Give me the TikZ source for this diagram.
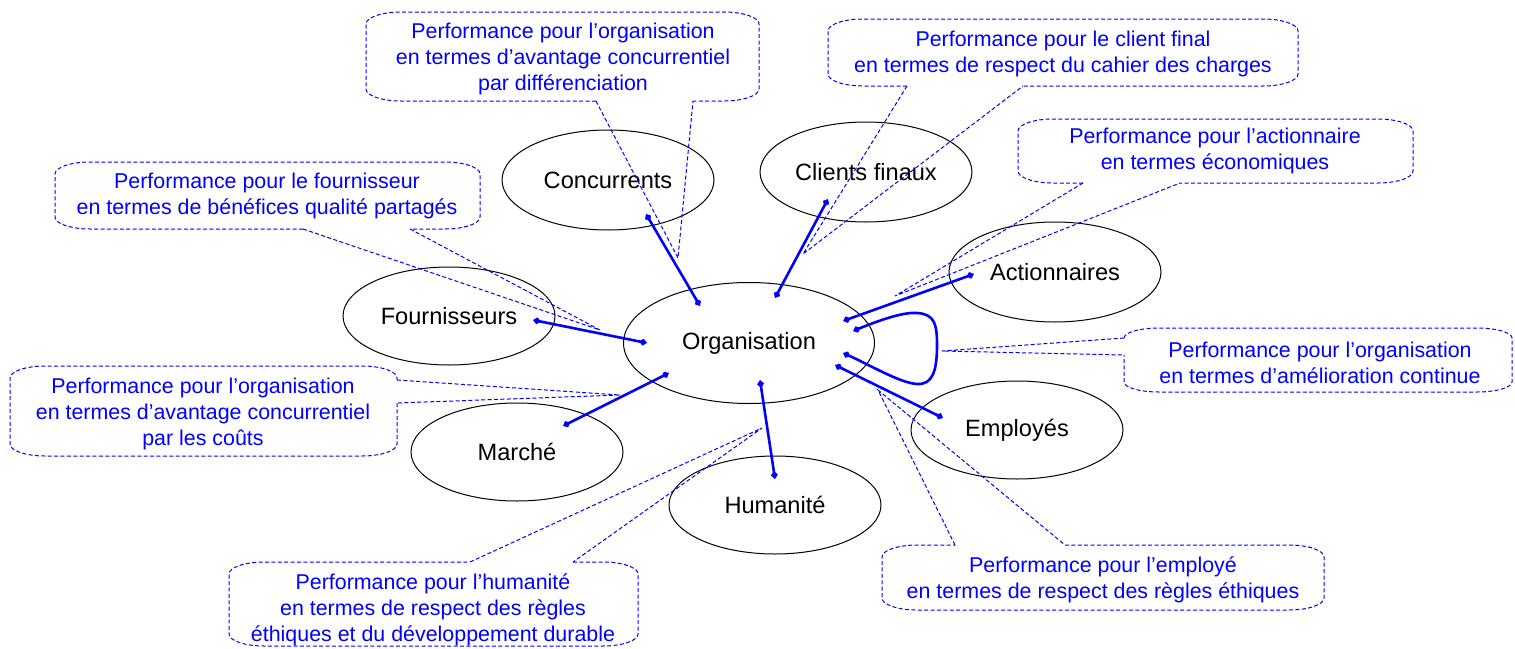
\documentclass[tikz,border=0pt]{standalone}
\usepackage{fontspec}
\setmainfont{Liberation Sans}
\usetikzlibrary{shapes.geometric,arrows.meta}
\definecolor{pblue}{RGB}{0,0,255}
\def\cR{35}
\def\cS{12}
% corner fragments, clockwise on screen (y grows downward)
\newcommand\cTL[2]{-- (#1,{#2+\cS}) .. controls (#1,{#2+0.45*\cS}) and ({#1+0.45*\cR},#2) .. ({#1+\cR},#2)}
\newcommand\cTR[2]{-- ({#1-\cR},#2) .. controls ({#1-0.45*\cR},#2) and (#1,{#2+0.45*\cS}) .. (#1,{#2+\cS})}
\newcommand\cBR[2]{-- (#1,{#2-\cS}) .. controls (#1,{#2-0.45*\cS}) and ({#1-0.45*\cR},#2) .. ({#1-\cR},#2)}
\newcommand\cBL[2]{-- ({#1+\cR},#2) .. controls ({#1+0.45*\cR},#2) and (#1,{#2-0.45*\cS}) .. (#1,{#2-\cS})}
% callouts: x1 y1 x2 y2 p q tip
\newcommand\callB[7]{%
 \draw[cbox] (#5,#4) \cBL{#1}{#4} \cTL{#1}{#2} \cTR{#3}{#2} \cBR{#3}{#4} -- (#6,#4);
 \draw[ctail] (#5,#4) -- (#7) -- (#6,#4);}
\newcommand\callT[7]{%
 \draw[cbox] (#6,#2) \cTR{#3}{#2} \cBR{#3}{#4} \cBL{#1}{#4} \cTL{#1}{#2} -- (#5,#2);
 \draw[ctail] (#5,#2) -- (#7) -- (#6,#2);}
\newcommand\callR[7]{%
 \draw[cbox] (#3,#6) \cBR{#3}{#4} \cBL{#1}{#4} \cTL{#1}{#2} \cTR{#3}{#2} -- (#3,#5);
 \draw[ctail] (#3,#5) -- (#7) -- (#3,#6);}
\newcommand\callL[7]{%
 \draw[cbox] (#1,#5) \cTL{#1}{#2} \cTR{#3}{#2} \cBR{#3}{#4} \cBL{#1}{#4} -- (#1,#6);
 \draw[ctail] (#1,#5) -- (#7) -- (#1,#6);}
\begin{document}
\begin{tikzpicture}[x=0.5pt,y=-0.5pt,
 ell/.style={draw=black,line width=0.5pt,ellipse,inner sep=0pt,minimum width=106pt,minimum height=49pt,font=\fontsize{11.8}{14}\selectfont},
 conn/.style={draw=pblue,line width=1.3pt,{Diamond[length=4pt,width=3.5pt]}-{Diamond[length=4pt,width=3.5pt]}},
 cbox/.style={draw=pblue,line width=0.5pt,dash pattern=on 2pt off 1.2pt},
 ctail/.style={draw=pblue,line width=0.5pt,dash pattern=on 2pt off 1.2pt},
 ctext/.style={text=pblue,align=center,font=\fontsize{10.7}{13}\selectfont,inner sep=0pt}]
\useasboundingbox (0,0) rectangle (1515,648);

% ellipses
\node[ell,minimum height=50pt] (conc) at (608,180) {Concurrents};
\node[ell,minimum height=50pt] (cli) at (866,172) {Clients finaux};
\node[ell,minimum height=50pt] (act) at (1055,272) {Actionnaires};
\node[ell,minimum width=125.5pt,minimum height=60.5pt] (org) at (749,343) {Organisation};
\node[ell] (four) at (449,316) {Fournisseurs};
\node[ell] (mar) at (517,452) {Marché};
\node[ell] (hum) at (775,505) {Humanité};
\node[ell] (emp) at (1017,430) {Employés};

% connector end points
\coordinate (cA1) at (646,214); \coordinate (cA2) at (700,306);
\coordinate (cB1) at (828,199); \coordinate (cB2) at (775,298);
\coordinate (cC1) at (974,274); \coordinate (cC2) at (843,321);
\coordinate (l1) at (853,331);  \coordinate (l2) at (843,353);
\coordinate (cE1) at (943,418); \coordinate (cE2) at (835,365);
\coordinate (cH1) at (775,479); \coordinate (cH2) at (760,380);
\coordinate (cM1) at (563,426); \coordinate (cM2) at (669,373);
\coordinate (cF1) at (533,320); \coordinate (cF2) at (647,343);

\draw[conn] (cA1) -- (cA2);
\draw[conn] (cB1) -- (cB2);
\draw[conn] (cC1) -- (cC2);
\draw[conn] (cE1) -- (cE2);
\draw[conn] (cH1) -- (cH2);
\draw[conn] (cM1) -- (cM2);
\draw[conn] (cF1) -- (cF2);
\draw[conn] (l1) .. controls (885,318) and (905,312) .. (917,313)
  .. controls (935,314) and (937,325) .. (937,345)
  .. controls (937,370) and (933,385) .. (917,384)
  .. controls (900,383) and (870,365) .. (l2);

% callout tips
\coordinate (tConc) at (678,258);
\coordinate (tCli) at (803,254);
\coordinate (tAct) at (895,296);
\coordinate (tAme) at (942,351);
\coordinate (tFour) at (600,330);
\coordinate (tCout) at (620,395);
\coordinate (tHum) at (762,428);
\coordinate (tEmp) at (878,390);

% callout boxes
\callB{366}{12}{759}{101}{596}{693}{tConc}
\node[ctext] (k1) at (563,59) {Performance pour l’organisation\\en termes d’avantage concurrentiel\\par différenciation};

\callB{828}{19}{1298}{86}{907}{1023}{tCli}
\node[ctext] (k2) at (1063,54) {Performance pour le client final\\en termes de respect du cahier des charges};

\callB{1018}{119}{1413}{183}{1083}{1180}{tAct}
\node[ctext] (k3) at (1215,151) {Performance pour l’actionnaire\\en termes économiques};

{\def\cS{10}
\callL{1124}{328}{1512}{392}{338}{355}{tAme}}
\node[ctext] (k4) at (1320,363) {Performance pour l’organisation\\en termes d’amélioration continue};

\callB{55}{162}{480}{229}{303}{410}{tFour}
\node[ctext] (k5) at (267,196) {Performance pour le fournisseur\\en termes de bénéfices qualité partagés};

\callR{10}{366}{397}{456}{380}{403}{tCout}
\node[ctext] (k6) at (203,414) {Performance pour l’organisation\\en termes d’avantage concurrentiel\\par les coûts};

\callT{229}{562}{638}{646}{470}{573}{tHum}
\node[ctext] (k7) at (433,610) {Performance pour l’humanité\\en termes de respect des règles\\éthiques et du développement durable};

\callT{882}{545}{1324}{610}{955}{1065}{tEmp}
\node[ctext] (k8) at (1103,580) {Performance pour l’employé\\en termes de respect des règles éthiques};
\end{tikzpicture}
\end{document}
